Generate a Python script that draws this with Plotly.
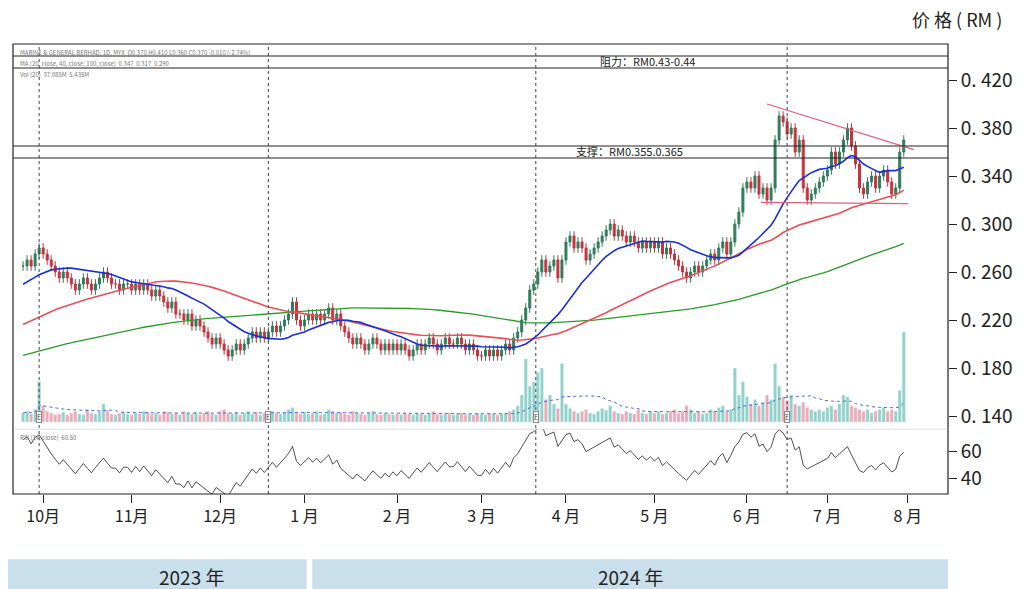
import numpy as np
import pandas as pd
import plotly.graph_objects as go

# closes before the visible window (only seed the moving averages / RSI)
prior_closes = [
    0.16, 0.155, 0.16, 0.165, 0.16, 0.155, 0.16, 0.165, 0.16, 0.155,
    0.16, 0.165, 0.16, 0.155, 0.16, 0.165, 0.16, 0.165, 0.16, 0.155,
    0.165, 0.16, 0.165, 0.17, 0.165, 0.16, 0.165, 0.17, 0.175, 0.17,
    0.165, 0.17, 0.175, 0.17, 0.165, 0.17, 0.175, 0.18, 0.175, 0.17,
    0.165, 0.17, 0.165, 0.17, 0.175, 0.17, 0.175, 0.18, 0.175, 0.17,
    0.17, 0.175, 0.18, 0.175, 0.17, 0.175, 0.18, 0.175, 0.18, 0.185,
    0.18, 0.175, 0.18, 0.185, 0.18, 0.175, 0.18, 0.185, 0.19, 0.185,
    0.18, 0.185, 0.19, 0.185, 0.19, 0.195, 0.19, 0.185, 0.19, 0.195,
    0.19, 0.195, 0.2, 0.195, 0.2, 0.205, 0.2, 0.195, 0.2, 0.205,
    0.21, 0.205, 0.2, 0.205, 0.21, 0.205, 0.2, 0.205, 0.21, 0.215,
    0.22, 0.225, 0.23, 0.235, 0.24, 0.245, 0.24, 0.245, 0.25, 0.245,
    0.25, 0.255, 0.25, 0.255, 0.26, 0.255, 0.26, 0.265, 0.26, 0.265,
]
# daily closes, Sep 2023 .. Jul 2024
closes = [
    0.265, 0.27, 0.265, 0.275, 0.28,
    0.275, 0.27, 0.265, 0.26, 0.255, 0.26, 0.255, 0.25, 0.245, 0.25, 0.255, 0.25, 0.245, 0.25, 0.255, 0.26, 0.255, 0.25, 0.25, 0.245, 0.25, 0.25,
    0.245, 0.25, 0.245, 0.25, 0.245, 0.24, 0.245, 0.24, 0.235, 0.23, 0.235, 0.225, 0.225, 0.22, 0.225, 0.215, 0.22, 0.215, 0.21, 0.205, 0.2, 0.205,
    0.2, 0.195, 0.19, 0.195, 0.2, 0.195, 0.2, 0.205, 0.21, 0.205, 0.21, 0.205, 0.21, 0.215, 0.21, 0.215, 0.22, 0.225, 0.235, 0.22, 0.215,
    0.22, 0.225, 0.22, 0.225, 0.22, 0.225, 0.23, 0.22, 0.225, 0.215, 0.21, 0.205, 0.2, 0.205, 0.2, 0.195, 0.2, 0.205, 0.2, 0.195, 0.2, 0.195, 0.2,
    0.195, 0.2, 0.195, 0.19, 0.195, 0.2, 0.195, 0.2, 0.205, 0.2, 0.195, 0.2, 0.205, 0.2, 0.2, 0.205, 0.2, 0.195, 0.2, 0.195, 0.19,
    0.19, 0.195, 0.19, 0.195, 0.19, 0.195, 0.2, 0.195, 0.205, 0.21, 0.22, 0.23, 0.245, 0.25, 0.26, 0.27, 0.26, 0.265, 0.27, 0.255, 0.27,
    0.285, 0.29, 0.28, 0.285, 0.28, 0.27, 0.275, 0.28, 0.285, 0.29, 0.295, 0.3, 0.29, 0.295, 0.29, 0.285, 0.29, 0.285, 0.28, 0.285, 0.28, 0.285,
    0.28, 0.285, 0.275, 0.28, 0.275, 0.27, 0.265, 0.26, 0.255, 0.26, 0.265, 0.26, 0.265, 0.27, 0.275, 0.27, 0.28, 0.285, 0.275, 0.285, 0.3, 0.31, 0.33,
    0.335, 0.33, 0.34, 0.325, 0.33, 0.32, 0.33, 0.37, 0.39, 0.385, 0.375, 0.38, 0.36, 0.37, 0.33, 0.32, 0.325, 0.33, 0.335, 0.34,
    0.345, 0.36, 0.35, 0.36, 0.37, 0.38, 0.365, 0.35, 0.33, 0.325, 0.335, 0.34, 0.33, 0.34, 0.345, 0.335, 0.325, 0.33, 0.36, 0.37,
]
volumes = [
    10, 12, 9, 14, 45,
    18, 12, 10, 8, 9, 11, 8, 10, 12, 9, 8, 14, 10, 9, 12, 20, 13, 9, 8, 10, 11, 9,
    8, 10, 9, 12, 11, 9, 10, 8, 12, 11, 9, 10, 8, 12, 10, 9, 11, 8, 10, 12, 9, 8,
    12, 14, 10, 9, 11, 8, 10, 12, 9, 11, 8, 10, 9, 12, 10, 9, 11, 14, 16, 10, 9,
    11, 9, 10, 12, 8, 9, 14, 12, 10, 11, 9, 8, 12, 10, 9, 8, 10, 12, 9, 8, 10, 9, 8,
    9, 8, 10, 9, 8, 10, 9, 8, 10, 12, 9, 8, 9, 10, 8, 9, 10, 8, 9, 8, 10,
    9, 8, 10, 9, 8, 9, 10, 12, 14, 18, 30, 70, 40, 45, 55, 60, 25, 30, 20, 15, 65,
    20, 15, 12, 10, 12, 14, 10, 9, 12, 15, 13, 18, 12, 10, 9, 12, 10, 9, 14, 10, 9, 12,
    10, 12, 9, 10, 12, 14, 10, 12, 18, 14, 10, 12, 9, 10, 14, 12, 16, 18, 12, 14, 60, 30, 45,
    28, 20, 25, 18, 22, 30, 25, 65, 40, 28, 24, 30, 20, 18, 22, 16, 14, 12, 14, 12,
    16, 18, 14, 20, 30, 28, 18, 16, 14, 12, 14, 10, 12, 14, 16, 12, 14, 12, 35, 100,
]
month_labels = ["10月", "11月", "12月", "1 月", "2 月", "3 月", "4 月", "5 月", "6 月", "7 月", "8 月"]
month_start_idx = [5, 27, 49, 70, 93, 114, 135, 157, 180, 200, 220]
earnings_idx = [4, 61, 127.5, 190]
resistance_band = [0.43, 0.44]
support_band = [0.355, 0.365]
upper_trend_x = [185, 221.5]
upper_trend_y = [0.40, 0.362]
lower_trend_x = [183.5, 220]
lower_trend_y = [0.318, 0.317]

n_prior = len(prior_closes)
full = pd.Series(prior_closes + closes)


def visible(s):
    return s.iloc[n_prior:].reset_index(drop=True)


ma_fast = visible(full.rolling(20, min_periods=1).mean())
ma_mid = visible(full.rolling(55, min_periods=1).mean())
ma_slow = visible(full.rolling(120, min_periods=1).mean())
delta = full.diff().fillna(0)
gain = delta.clip(lower=0).ewm(alpha=1 / 14).mean()
loss = (-delta.clip(upper=0)).ewm(alpha=1 / 14).mean()
rsi = visible(100 - 100 / (1 + gain / loss.replace(0, 1e-9)))

c = pd.Series(closes)
o = visible(full.shift(1))
hi = np.maximum(o, c) + 0.004
lo = np.minimum(o, c) - 0.004
x = list(range(len(closes)))
vol_avg = pd.Series(volumes).rolling(20, min_periods=1).mean()
vol_colors = ["#8fd3c8" if cc >= oo else "#f2a7b4" for cc, oo in zip(c, o)]

fig = go.Figure()
fig.add_trace(go.Bar(x=x, y=volumes, marker_color=vol_colors, width=0.8,
                     yaxis="y3", showlegend=False))
fig.add_trace(go.Scatter(x=x, y=vol_avg, mode="lines", yaxis="y3",
                         line=dict(color="#4a6fd0", width=1, dash="dot"), showlegend=False))
fig.add_trace(go.Candlestick(x=x, open=o, high=hi, low=lo, close=c,
                             increasing=dict(line=dict(color="#2f7d5a", width=1), fillcolor="#2f7d5a"),
                             decreasing=dict(line=dict(color="#c8323c", width=1), fillcolor="#c8323c"),
                             whiskerwidth=0, showlegend=False))
fig.add_trace(go.Scatter(x=x, y=ma_slow, mode="lines", line=dict(color="#2a9a2a", width=1.3), showlegend=False))
fig.add_trace(go.Scatter(x=x, y=ma_mid, mode="lines", line=dict(color="#e8505a", width=1.6), showlegend=False))
fig.add_trace(go.Scatter(x=x, y=ma_fast, mode="lines", line=dict(color="#1a2fd8", width=1.6), showlegend=False))
fig.add_trace(go.Scatter(x=upper_trend_x, y=upper_trend_y, mode="lines",
                         line=dict(color="#e0607a", width=1.3), showlegend=False))
fig.add_trace(go.Scatter(x=lower_trend_x, y=lower_trend_y, mode="lines",
                         line=dict(color="#e0607a", width=1.3), showlegend=False))
fig.add_trace(go.Scatter(x=x, y=rsi, mode="lines", yaxis="y2", xaxis="x",
                         line=dict(color="#222", width=0.8), showlegend=False))

for v in resistance_band + support_band:
    fig.add_hline(y=v, line=dict(color="#222", width=1))
for e in earnings_idx:
    fig.add_shape(type="line", x0=e, x1=e, y0=0, y1=1, xref="x", yref="paper",
                  line=dict(color="#444", width=1, dash="dot"))
    fig.add_annotation(x=e, y=0.139, text="E", showarrow=False, font=dict(size=7, color="#444"),
                       bordercolor="#888", borderwidth=1, borderpad=0, bgcolor="white")

fig.add_annotation(x=137, y=support_band[0], yshift=7, text="支撑：RM0.355.0.365", showarrow=False,
                   xanchor="left", font=dict(size=11, color="#222"))
fig.add_annotation(x=143, y=resistance_band[0], yshift=7, text="阻力：RM0.43-0.44", showarrow=False,
                   xanchor="left", font=dict(size=11, color="#222"))
hdr = ["MARINE & GENERAL BERHAD, 1D, MYX  O0.370 H0.410 L0.360 C0.370 -0.010 (-2.74%)",
       "MA (20, close, 40, close, 100, close)  0.347  0.317  0.290",
       "Vol (20)  37.085M  5.435M"]
for i, t in enumerate(hdr):
    fig.add_annotation(xref="paper", yref="paper", x=0.005, y=0.995 - i * 0.024, text=t,
                       showarrow=False, xanchor="left", yanchor="top", font=dict(size=6, color="#777"))
fig.add_annotation(xref="paper", yref="paper", x=0.005, y=0.14, text="RSI (14, close)  60.50",
                   showarrow=False, xanchor="left", yanchor="top", font=dict(size=6, color="#777"))
fig.add_annotation(xref="paper", yref="paper", x=1.06, y=1.055, text="价 格 ( RM )", showarrow=False,
                   xanchor="right", yanchor="middle", font=dict(size=18, color="#222"))

# frame and year bars
fig.add_shape(type="rect", xref="paper", yref="paper", x0=0, x1=1, y0=0, y1=1,
              line=dict(color="#222", width=1.2))
fig.add_shape(type="line", xref="paper", yref="paper", x0=0, x1=1, y0=0.144, y1=0.144,
              line=dict(color="#bbb", width=0.5))
for x0, x1, t in [(-0.006, 0.314, "2023 年"), (0.32, 1.0, "2024 年")]:
    fig.add_shape(type="rect", xref="paper", yref="paper", x0=x0, x1=x1, y0=-0.145, y1=-0.225,
                  fillcolor="#c9dfec", line=dict(width=0))
    fig.add_annotation(xref="paper", yref="paper", x=(x0 + x1) / 2, y=-0.183, yanchor="middle",
                       text=t, showarrow=False, font=dict(size=19, color="#222"))

price_ticks = [0.14, 0.18, 0.22, 0.26, 0.30, 0.34, 0.38, 0.42]
fig.update_layout(
    width=1022, height=589, paper_bgcolor="white", plot_bgcolor="white",
    margin=dict(l=5, r=82, t=36, b=103),
    font=dict(family="Noto Sans CJK SC, Noto Sans", color="#222"),
    bargap=0.2,
    xaxis=dict(range=[-2.5, 230], showgrid=False, zeroline=False, rangeslider=dict(visible=False),
               tickvals=month_start_idx, ticktext=month_labels, ticks="outside", ticklen=8,
               tickcolor="#222", tickfont=dict(size=16), anchor="y2"),
    yaxis=dict(domain=[0.144, 1], range=[0.129, 0.45], side="right", showgrid=False, zeroline=False,
               tickvals=price_ticks, ticktext=["0. " + f"{v:.3f}"[2:] for v in price_ticks],
               ticks="outside", ticklen=8, tickcolor="#222", tickfont=dict(size=19)),
    yaxis2=dict(domain=[0, 0.144], range=[28, 77], side="right", showgrid=False, zeroline=False,
                tickvals=[40, 60], ticks="outside", ticklen=8, tickcolor="#222", tickfont=dict(size=19)),
    yaxis3=dict(domain=[0.144, 1], overlaying="y", range=[-8, 420], visible=False),
)
fig.write_html("out.html")
